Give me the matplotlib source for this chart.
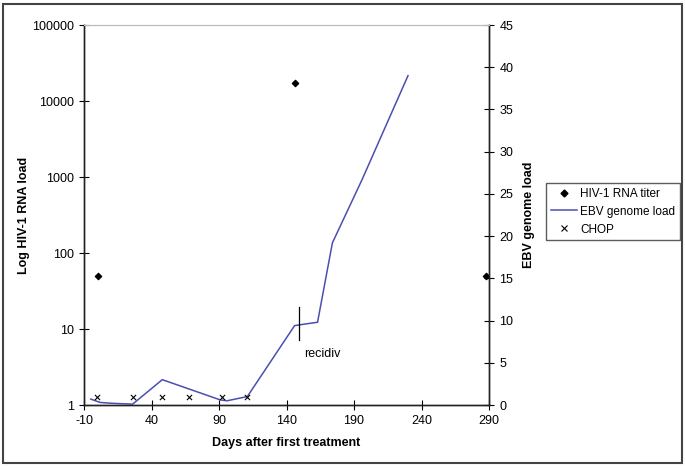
import matplotlib.pyplot as plt
from matplotlib.patches import Rectangle
from matplotlib.lines import Line2D
from matplotlib.ticker import FixedLocator, NullLocator

plt.rcParams['font.family'] = ['Liberation Sans', 'DejaVu Sans']
plt.rcParams['font.size'] = 9
plt.rcParams['axes.unicode_minus'] = False

# HIV-1 RNA titer (left, log axis)
hiv_days = [0, 146, 288]
hiv_titer = [50, 17000, 50]

# EBV genome load (right axis)
ebv_days = [-5, 2, 11, 26, 48, 91, 96, 111, 146, 150, 163, 174, 196, 230]
ebv_load = [0.7, 0.3, 0.2, 0.1, 3.0, 0.6, 0.5, 1.0, 9.4, 9.5, 9.8, 19.2, 26.7, 39.0]

# CHOP courses
chop_days = [0, 26, 48, 68, 92, 111]
chop_level = [1, 1, 1, 1, 1, 1]

# recidiv marker
recidiv_day = 149
recidiv_span = [7.7, 11.6]

fig = plt.figure(figsize=(6.85, 4.69), dpi=100)
ax = fig.add_axes([84 / 685, 1 - 405 / 469, 405 / 685, 380 / 469])
ax2 = ax.twinx()

ax.scatter(hiv_days, hiv_titer, marker='D', s=10, color='black', zorder=3)
ax.set_yscale('log')
ax.set_ylim(1, 100000)
ax.set_xlim(-10, 290)
ax.yaxis.set_major_locator(FixedLocator([1, 10, 100, 1000, 10000, 100000]))
ax.yaxis.set_minor_locator(NullLocator())
ax.set_yticklabels(['1', '10', '100', '1000', '10000', '100000'])
ax.set_xticks(range(-10, 291, 50))

ax2.plot(ebv_days, ebv_load, color='#4a4fb0', lw=1.1)
ax2.scatter(chop_days, chop_level, marker='x', s=14, color='black', lw=0.8, zorder=3)
ax2.plot([recidiv_day, recidiv_day], recidiv_span, color='black', lw=0.9)
ax2.text(recidiv_day + 4, 6.0, 'recidiv', ha='left', va='center')
ax2.set_ylim(0, 45)
ax2.set_yticks(range(0, 46, 5))

for a in (ax, ax2):
    a.tick_params(direction='inout', length=7, width=0.8, colors='black', pad=4)
    for side in ('left', 'right', 'bottom'):
        a.spines[side].set_color('#222222')
        a.spines[side].set_linewidth(1.0)
    a.spines['top'].set_color('#bbbbbb')

ax.set_xlabel('Days after first treatment', fontweight='bold', labelpad=7)
ax.set_ylabel('Log HIV-1 RNA load', fontweight='bold', labelpad=1)
ax2.set_ylabel('EBV genome load', fontweight='bold', labelpad=7)

handles = [
    Line2D([], [], marker='D', ls='none', color='black', markersize=3.5),
    Line2D([], [], color='#4a4fb0', lw=1.1),
    Line2D([], [], marker='x', ls='none', color='black', markersize=4, mew=0.8),
]
fig.legend(handles, ['HIV-1 RNA titer', 'EBV genome load', 'CHOP'],
           loc='upper left', bbox_to_anchor=(546 / 685, 1 - 183 / 469),
           frameon=True, fancybox=False, edgecolor='#333333', fontsize=8.5,
           handlelength=2.2, handletextpad=0.3, borderpad=0.4, labelspacing=0.5,
           borderaxespad=0)

fig.patches.append(Rectangle((3 / 685, 1 - 463 / 469), 679 / 685, 459 / 469,
                             transform=fig.transFigure, fill=False,
                             edgecolor='#444444', lw=1.5))

fig.savefig('out.png', dpi=100)
